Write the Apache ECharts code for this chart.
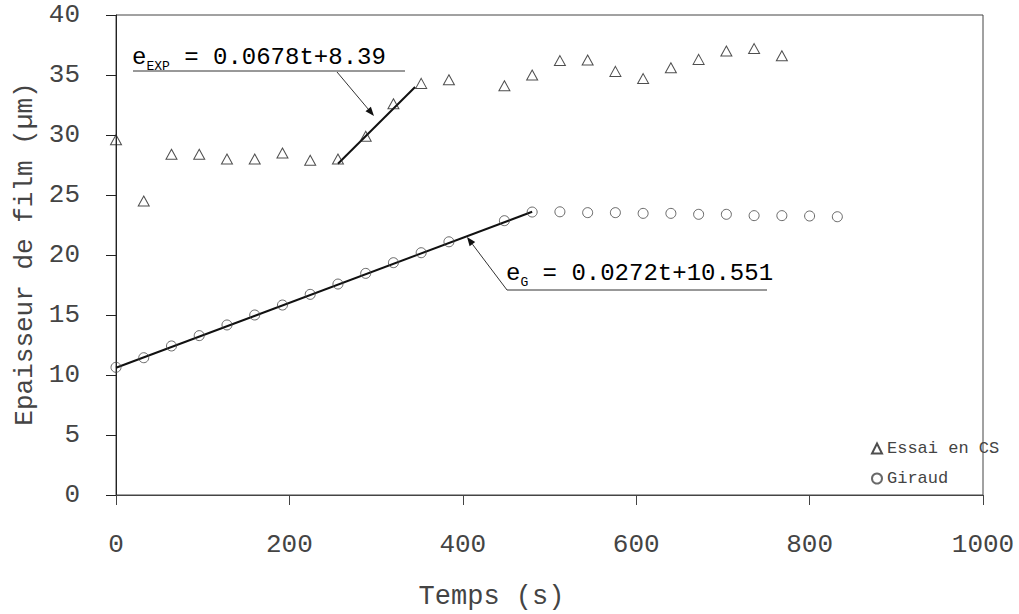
<!DOCTYPE html>
<html><head><meta charset="utf-8">
<script src="https://cdn.jsdelivr.net/npm/echarts@6/dist/echarts.min.js"></script>
<style>html,body{margin:0;padding:0;background:#fff}#c{width:1019px;height:614px}</style>
</head><body><div id="c"></div>
<script>
// Essai en CS (triangles)
const timesExp = [0,32,64,96,128,160,192,224,256,288,320,352,384,448,480,512,544,576,608,640,672,704,736,768];
const thickExp = [29.6,24.5,28.4,28.4,28.0,28.0,28.5,27.9,28.0,29.9,32.6,34.3,34.6,34.1,35.0,36.2,36.25,35.3,34.7,35.6,36.3,37.0,37.2,36.6];
// Giraud (circles)
const timesG = [0,32,64,96,128,160,192,224,256,288,320,352,384,448,480,512,544,576,608,640,672,704,736,768,800,832];
const thickG = [10.64,11.44,12.42,13.28,14.17,15.0,15.83,16.72,17.58,18.47,19.36,20.19,21.1,22.86,23.58,23.6,23.53,23.53,23.47,23.47,23.39,23.39,23.28,23.28,23.25,23.19];
// fitted lines (end points)
const fitExpT = [256,345];
const fitExpV = [27.6,34.0];
const fitGT = [0,480];
const fitGV = [10.6,23.6];
const xTicks = [0,200,400,600,800,1000];
const yTicks = [0,5,10,15,20,25,30,35,40];
const seriesNames = ['Essai en CS','Giraud'];

const FONT = "'Courier New','Liberation Mono',monospace";
const TXT = '#444';
const chart = echarts.init(document.getElementById('c'), null, {renderer:'svg'});

function arrow(x1,y1,x2,y2){
  const a = Math.atan2(y2-y1,x2-x1), L=9, W=3.5;
  const bx = x2 - L*Math.cos(a), by = y2 - L*Math.sin(a);
  const px = -Math.sin(a)*W, py = Math.cos(a)*W;
  return [
    {type:'line', shape:{x1,y1,x2:bx,y2:by}, style:{stroke:'#333',lineWidth:1}, z:10},
    {type:'polygon', shape:{points:[[x2,y2],[bx+px,by+py],[bx-px,by-py]]}, style:{fill:'#111'}, z:10}
  ];
}

const option = {
  animation:false,
  backgroundColor:'#fff',
  grid:{left:116,right:36,top:15,bottom:119,show:true,borderColor:'#444',borderWidth:1,outerBoundsMode:'none',containLabel:false},
  xAxis:{type:'value',min:xTicks[0],max:xTicks[xTicks.length-1],interval:200,
    axisLine:{lineStyle:{color:'#444'}},
    axisTick:{inside:false,length:10,lineStyle:{color:'#444'}},
    splitLine:{show:false},
    axisLabel:{margin:37,fontSize:26,fontFamily:FONT,color:TXT,formatter:v=>String(v)},
    name:'Temps (s)',nameLocation:'middle',nameGap:88,
    nameTextStyle:{fontSize:27,fontFamily:FONT,color:TXT,padding:[0,116,0,0]}},
  yAxis:{type:'value',min:yTicks[0],max:yTicks[yTicks.length-1],interval:5,
    axisLine:{show:true,lineStyle:{color:'#222'}},
    axisTick:{show:true,inside:false,length:10,lineStyle:{color:'#222'}},
    splitLine:{show:false},
    axisLabel:{margin:36,fontSize:26,fontFamily:FONT,color:TXT},
    name:'Epaisseur de film (µm)',nameLocation:'middle',nameGap:78,
    nameTextStyle:{fontSize:26,fontFamily:FONT,color:TXT,padding:[0,0,0,2]}},
  legend:{data:seriesNames,orient:'vertical',left:871,top:440,padding:0,itemWidth:10,itemHeight:10,itemGap:13,
    textStyle:{fontSize:17,fontFamily:FONT,color:TXT}},
  series:[
    {name:seriesNames[0],type:'scatter',symbol:'triangle',symbolSize:[11,10],
      data:timesExp.map((t,i)=>[t,thickExp[i]]),
      itemStyle:{color:'rgba(255,255,255,0)',borderColor:'#222',borderWidth:1},z:3},
    {name:seriesNames[1],type:'scatter',symbol:'circle',symbolSize:10,
      data:timesG.map((t,i)=>[t,thickG[i]]),
      itemStyle:{color:'rgba(255,255,255,0)',borderColor:'#444',borderWidth:1},z:3},
    {name:'fitExp',type:'line',symbol:'none',data:fitExpT.map((t,i)=>[t,fitExpV[i]]),
      lineStyle:{color:'#111',width:2},z:2},
    {name:'fitG',type:'line',symbol:'none',data:fitGT.map((t,i)=>[t,fitGV[i]]),
      lineStyle:{color:'#111',width:2},z:2}
  ]
};
chart.setOption(option);

const rich = {
  m:{fontSize:24,fontFamily:FONT,color:TXT,lineHeight:26},
  s:{fontSize:13,fontFamily:FONT,color:TXT,lineHeight:26,verticalAlign:'bottom',padding:[0,0,-3,0]}
};
const g = [];
g.push({type:'text',x:132,y:44,style:{text:'{m|e}{s|EXP}{m| = 0.0678t+8.39}',rich},z:10});
g.push({type:'line',shape:{x1:133,y1:71,x2:405,y2:71},style:{stroke:'#333',lineWidth:1},z:10});
g.push(...arrow(337,72,374,116));
g.push({type:'text',x:506,y:260,style:{text:'{m|e}{s|G}{m| = 0.0272t+10.551}',rich},z:10});
g.push({type:'line',shape:{x1:507,y1:290,x2:767,y2:290},style:{stroke:'#333',lineWidth:1},z:10});
g.push(...arrow(507,290,467,237));
chart.setOption({graphic:g});
</script></body></html>
